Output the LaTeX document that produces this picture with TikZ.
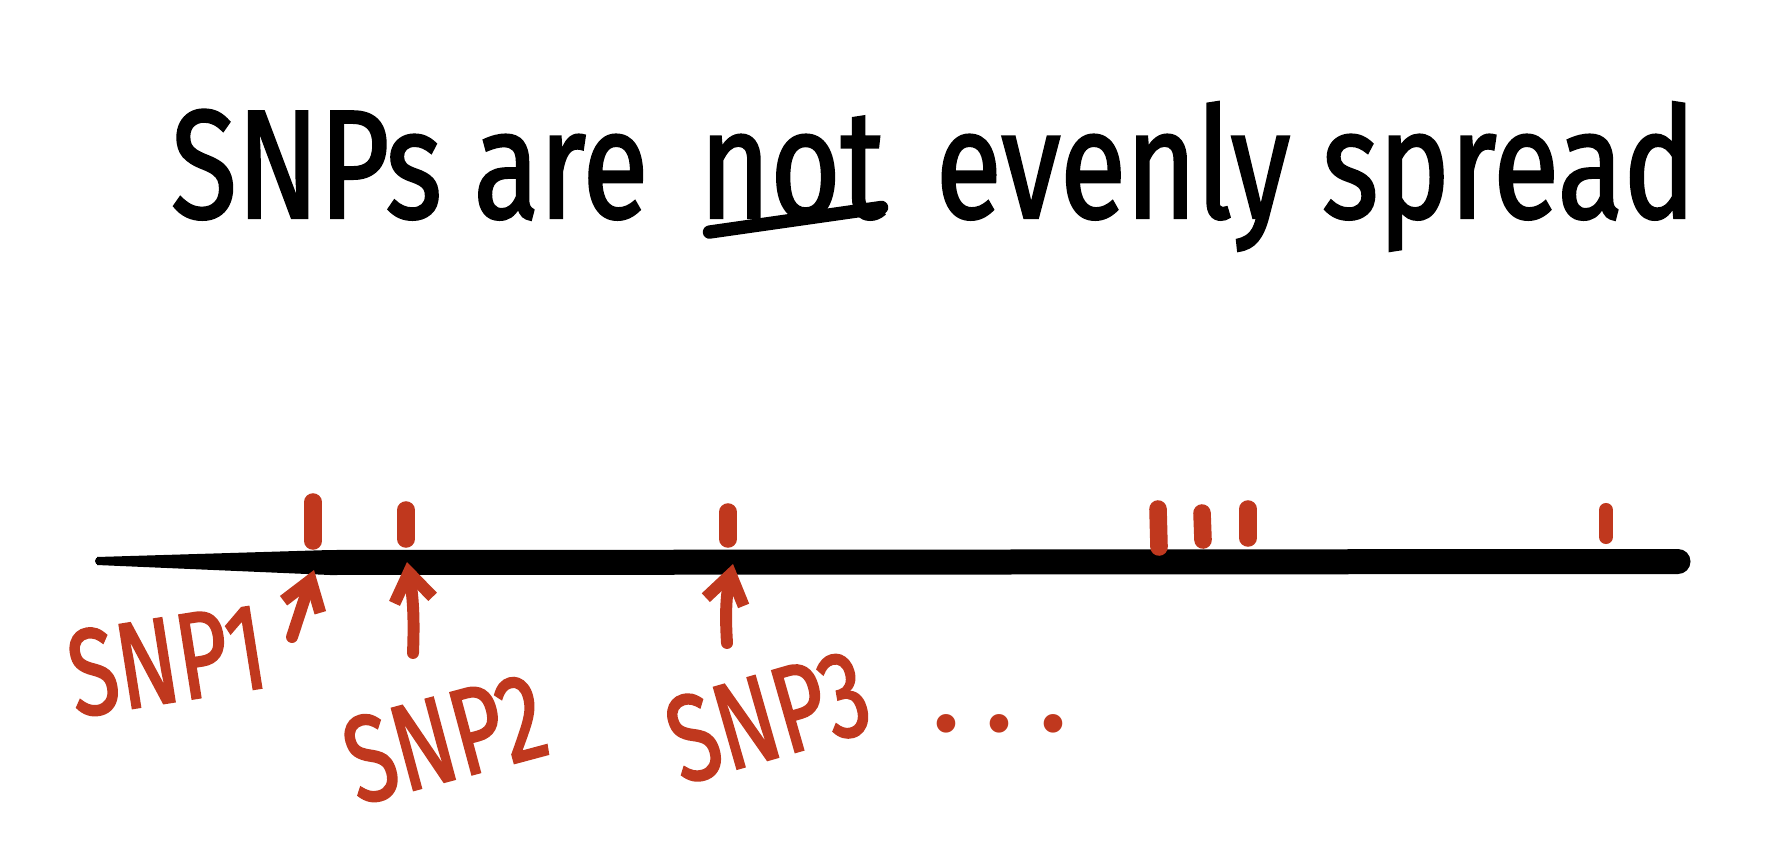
\documentclass[tikz,border=0pt]{standalone}
\usepackage{fontspec}
\setmainfont{Fira Sans}
\newfontfamily\handfont[FakeStretch=0.78,FakeBold=1.5]{Fira Sans}
\newfontfamily\redhand[FakeStretch=0.72,FakeBold=1.5]{Fira Sans}
\usepackage{xcolor}
\usepackage{tikz}
\usetikzlibrary{arrows.meta,positioning}
\definecolor{snpred}{RGB}{192,56,30}

\begin{document}
\begin{tikzpicture}[x=0.01cm,y=-0.01cm,
  titletext/.style={font=\handfont\fontsize{44}{44}\selectfont,inner sep=0pt},
  snptick/.style={snpred,line width=5pt,line cap=round},
  snplabel/.style={snpred,font=\redhand\fontsize{35}{35}\selectfont,inner sep=0pt},
  snparrow/.style={snpred,line width=3.4pt,line cap=round,
    -{Straight Barb[length=8pt,width=11pt,line width=3.4pt]}}]
  \useasboundingbox (0,0) rectangle (1786,852);
  % title, "not" underlined
  \node[titletext,anchor=base] (notword) at (792,218) {not};
  \node[titletext,base left=0.5cm of notword.base west] (titleleft) {SNPs are};
  \node[titletext,base right=0.5cm of notword.base east] (titleright) {evenly spread};
  \draw[line width=3.8pt,line cap=round] ([xshift=3pt,yshift=-4pt]notword.base west) -- ([xshift=-1pt,yshift=3pt]notword.base east);
  % the chromosome, thin on the left
  \fill (97,557) -- (330,550) -- (1678,549) -- (1678,574) -- (330,575) -- (97,565) -- cycle;
  \fill (99,561) circle (4);
  \fill (1678,561.5) circle (12.5);
  % SNP positions
  \draw[snptick] (313,502) -- (313,541);
  \draw[snptick] (406,510) -- (406,539);
  \draw[snptick] (728,512) -- (728,539);
  \draw[snptick] (1158,509) -- (1159,547);
  \draw[snptick] (1202,513) -- (1203,540);
  \draw[snptick] (1248,509) -- (1248,538);
  \draw[snptick,line width=4pt] (1606,510) -- (1606,537);
  % labels
  \node[snplabel,rotate=9] (snp1) at (167,660) {SNP1};
  \node[snplabel,rotate=15] (snp2) at (445,738) {SNP2};
  \node[snplabel,rotate=16] (snp3) at (768,716) {SNP3};
  \node[snpred,font=\fontsize{38}{38}\selectfont,inner sep=0pt,anchor=base] (dots) at (1000,731) {.\hspace{6pt}.\hspace{6pt}.};
  % arrows to the first three
  \coordinate (tail1) at (292,637);
  \coordinate (tip1) at (314,570);
  \coordinate (tail2) at (413,653);
  \coordinate (tip2) at (407,562);
  \coordinate (tail3) at (727,643);
  \coordinate (tip3) at (733,564);
  \draw[snparrow] (tail1) -- (tip1);
  \draw[snparrow] (tail2) to[bend right=6] (tip2);
  \draw[snparrow] (tail3) to[bend left=8] (tip3);
\end{tikzpicture}
\end{document}
